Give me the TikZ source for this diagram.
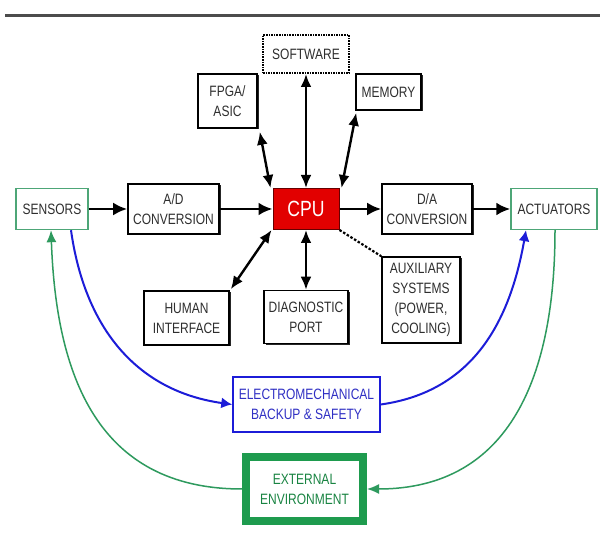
\documentclass[tikz,border=0pt]{standalone}
\usepackage{fontspec}
\newfontfamily\boxfont[FakeStretch=0.8]{Liberation Sans}
\usetikzlibrary{arrows.meta,shadows}
\definecolor{txt}{HTML}{2E2E2E}
\definecolor{sgreen}{HTML}{4DA677}
\definecolor{egreen}{HTML}{1E9B4E}
\definecolor{cgreen}{HTML}{2E9A5E}
\definecolor{bblue}{HTML}{1C1CD8}
\definecolor{btext}{HTML}{3030C4}
\definecolor{cpured}{HTML}{E20000}
\begin{document}
\begin{tikzpicture}[x=1pt,y=1pt,
  lbl/.style={font=\boxfont\fontsize{15}{20}\selectfont, text=txt, align=center, inner sep=0pt},
  bbox/.style={lbl, draw=black, line width=1.6pt, fill=white,
    drop shadow={shadow xshift=1.5pt, shadow yshift=-1.5pt, opacity=1, fill=black!85}},
  gbox/.style={lbl, draw=sgreen, line width=1.4pt, fill=white},
  dbox/.style={lbl, draw=black, line width=2pt, dash pattern=on 1.6pt off 1pt, fill=white},
  cpubox/.style={lbl, draw=black!60!red, line width=1pt, fill=cpured, text=white, font=\boxfont\fontsize{22}{24}\selectfont},
  ebox/.style={lbl, draw=bblue, line width=1.5pt, fill=white, text=btext},
  xbox/.style={lbl, draw=egreen, line width=8pt, fill=white, text=egreen!85!black},
  arr/.style={-{Latex[length=14pt,width=13pt]}, line width=2.8pt},
  darr/.style={{Latex[length=13pt,width=11pt]}-{Latex[length=13pt,width=11pt]}, line width=2.4pt},
  dsh/.style={line width=2.2pt, dash pattern=on 2.5pt off 1.8pt},
  barr/.style={-{Latex[length=11pt,width=11pt]}, line width=2pt, draw=bblue},
  garr/.style={-{Latex[length=12pt,width=10pt]}, line width=1.5pt, draw=cgreen}
]
\fill[white] (0,0) rectangle (600,-534);
\useasboundingbox (0,0) rectangle (600,-534);
\draw[line width=3pt, black!70] (5,-16) -- (600,-16);

\node[gbox, minimum width=72pt, minimum height=41pt] (sens) at (52,-209) {SENSORS};
\node[bbox, minimum width=91pt, minimum height=50pt] (ad) at (173.5,-209) {A/D\\CONVERSION};
\node[cpubox, minimum width=66pt, minimum height=41pt] (cpu) at (306,-209) {CPU};
\node[bbox, minimum width=90pt, minimum height=50pt] (da) at (427,-209) {D/A\\CONVERSION};
\node[gbox, minimum width=86pt, minimum height=41pt] (act) at (554,-209) {ACTUATORS};
\node[dbox, minimum width=86pt, minimum height=38pt] (sw) at (306,-54) {SOFTWARE};
\node[bbox, minimum width=59pt, minimum height=54pt] (fpga) at (227.5,-101) {FPGA/\\ASIC};
\node[bbox, minimum width=65pt, minimum height=36pt] (mem) at (388.5,-92) {MEMORY};
\node[bbox, minimum width=85pt, minimum height=54pt] (hum) at (186.5,-318) {HUMAN\\INTERFACE};
\node[bbox, minimum width=84pt, minimum height=53pt] (diag) at (306,-317) {DIAGNOSTIC\\PORT};
\node[bbox, minimum width=78pt, minimum height=86pt] (aux) at (421,-300) {AUXILIARY\\SYSTEMS\\(POWER,\\COOLING)};
\node[ebox, minimum width=147pt, minimum height=55pt] (em) at (306.5,-404.5) {ELECTROMECHANICAL\\BACKUP \& SAFETY};
\node[xbox, minimum width=117pt, minimum height=64pt] (ext) at (304.5,-489) {EXTERNAL\\ENVIRONMENT};

\draw[arr] (sens.east) -- (ad.west);
\draw[arr] (ad.east) -- (cpu.west);
\draw[arr] (cpu.east) -- (da.west);
\draw[arr] (da.east) -- (act.west);

\draw[darr] ([shift={(2,-3)}]fpga.south east) -- ([xshift=-2pt]cpu.north west);
\draw[darr] (sw.south) -- (cpu.north);
\draw[darr] ([shift={(1,-2)}]mem.south west) -- ([xshift=2pt]cpu.north east);
\draw[darr] ([xshift=-1pt]cpu.south west) -- ([shift={(1,1)}]hum.north east);
\draw[darr] (cpu.south) -- (diag.north);
\draw[dsh] (cpu.south east) -- (aux.north west);

\draw[barr] ([xshift=19pt]sens.south) to[out=-82, in=172, looseness=1.05] (em.west);
\draw[barr] (em.east) to[out=8, in=-100, looseness=1.05] ([xshift=-28pt]act.south);

\draw[garr] (ext.west) to[out=180, in=-88, looseness=1.15] ([xshift=-1pt]sens.south);
\draw[garr] ([xshift=1pt]act.south) to[out=-90, in=0, looseness=1.15] (ext.east);
\end{tikzpicture}
\end{document}
